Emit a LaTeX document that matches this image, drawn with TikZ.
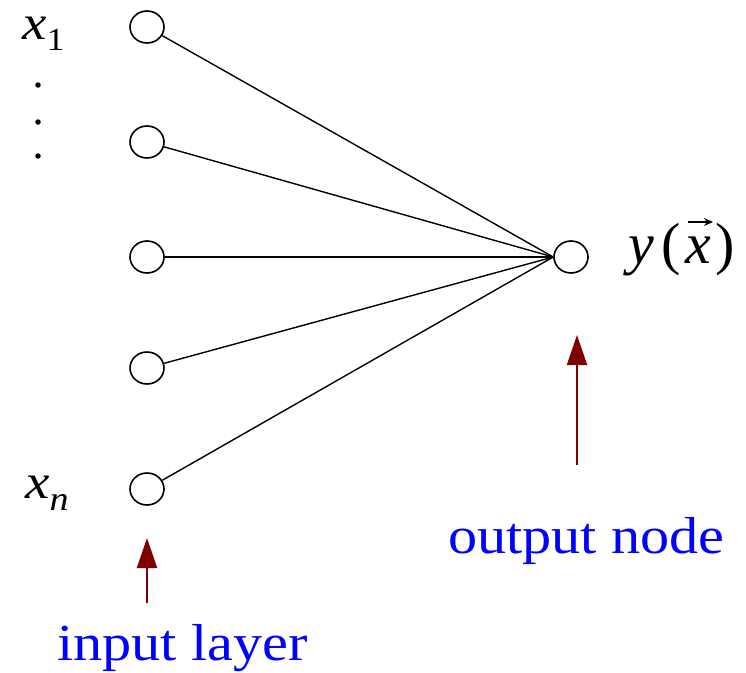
\documentclass[tikz,border=0pt]{standalone}
\usepackage{fontspec}
\usepackage{graphicx}
\setmainfont{Liberation Serif}
\usetikzlibrary{arrows.meta,shapes.geometric,calc}
\definecolor{arrowred}{RGB}{128,0,0}
\definecolor{labelblue}{RGB}{0,0,255}
\begin{document}
\begin{tikzpicture}[x=1pt,y=-1pt,
  neuron/.style={draw, ellipse, minimum width=34pt, minimum height=32pt, inner sep=0pt, line width=1.6pt},
  link/.style={line width=1.4pt},
  pointer/.style={draw=arrowred, line width=2pt, -{Triangle[length=30pt,width=20pt]}, arrowred},
  vecarrow/.style={line width=2pt, -{Stealth[length=9pt,width=8pt]}},
  bluelabel/.style={anchor=base west, inner sep=0pt, text=labelblue, font=\fontsize{52}{60}\selectfont},
  varlabel/.style={anchor=base west, inner sep=0pt, font=\fontsize{49}{56}\selectfont},
  vdot/.style={fill=black, circle, inner sep=0pt, minimum size=5.5pt}]
\useasboundingbox (0,0) rectangle (746,672);
\fill[white] (0,0) rectangle (746,672);
% input layer
\node[neuron] (i1) at (147,27) {};
\node[neuron] (i2) at (147,142) {};
\node[neuron] (i3) at (147,257) {};
\node[neuron] (i4) at (147,368) {};
\node[neuron] (i5) at (147,489) {};
% output
\node[neuron] (out) at (571,257) {};
% connections
\foreach \n in {i1,i2,i3,i4,i5} \draw[link] (\n) -- (out.west);
% labels
\node[varlabel] (lx1) at (22,39) {\scalebox{1.12}[1]{\itshape x}\raisebox{-11pt}{\fontsize{32}{36}\selectfont\scalebox{1.12}[1]{1}}};
\node[varlabel] (lxn) at (25,498) {\scalebox{1.12}[1]{\itshape x}\raisebox{-12pt}{\fontsize{34}{38}\selectfont\scalebox{1.12}[1]{\itshape n}}};
\node[vdot] (d1) at (38,85) {};
\node[vdot] (d2) at (38,122) {};
\node[vdot] (d3) at (38,156) {};
\node[anchor=base west, inner sep=0pt, font=\fontsize{58}{66}\selectfont] (ly) at (628,263)
  {{\itshape y}\kern8pt(\kern4pt{\itshape x}\kern4pt)};
\draw[vecarrow] ($(ly.base west)+(60,-41)$) -- ($(ly.base west)+(85,-41)$);
\node[bluelabel] (lin) at (57,660) {\scalebox{1.12}[1]{input layer}};
\node[bluelabel] (lout) at (448,553) {\scalebox{1.12}[1]{output node}};
% pointers
\coordinate (pin1) at (147,603);
\coordinate (pin2) at (147,538);
\coordinate (pout1) at (577,465);
\coordinate (pout2) at (577,335);
\draw[pointer] (pin1) -- (pin2);
\draw[pointer] (pout1) -- (pout2);
\end{tikzpicture}
\end{document}
